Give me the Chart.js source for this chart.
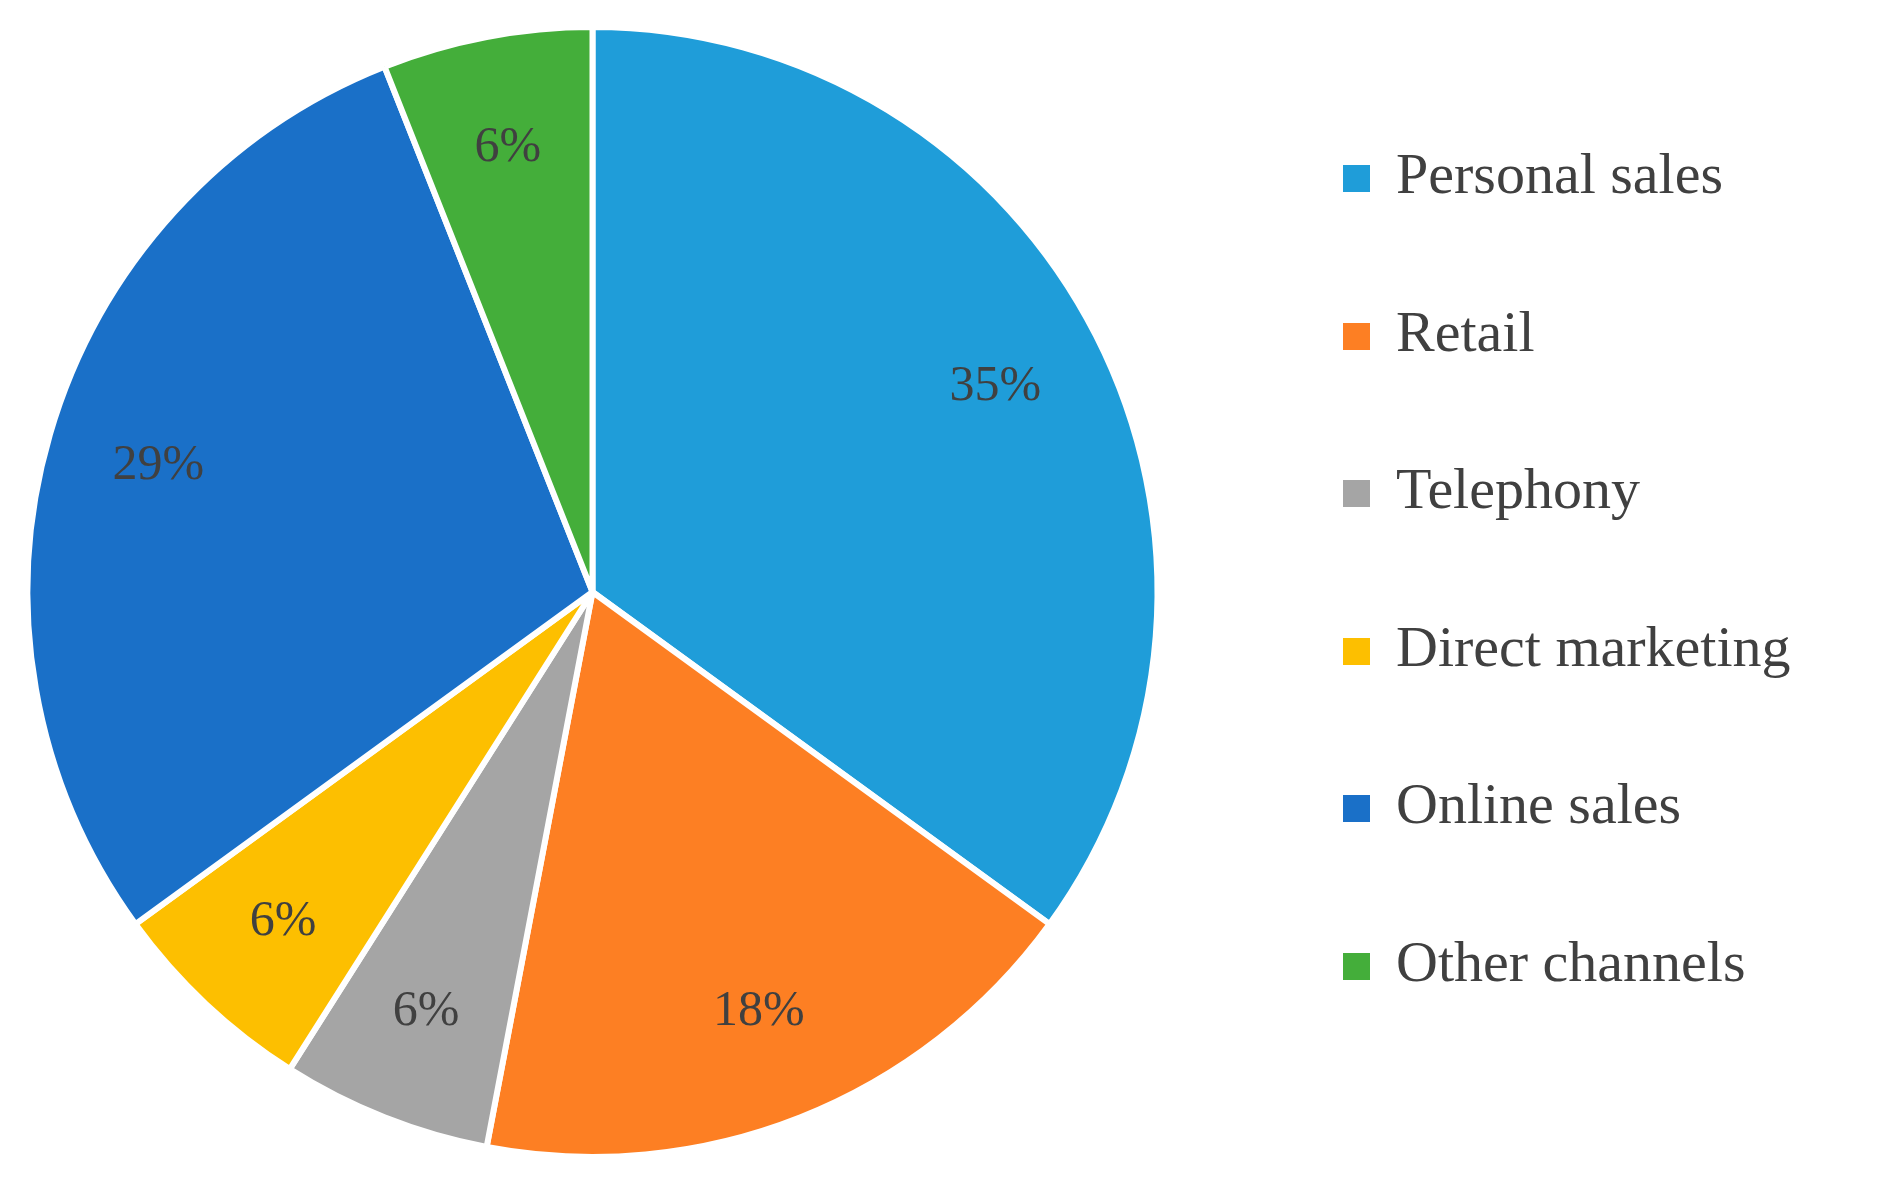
<!DOCTYPE html>
<html>
<head>
<meta charset="utf-8">
<script src="https://cdn.jsdelivr.net/npm/chart.js@4/dist/chart.umd.min.js"></script>
<style>
  html, body { margin: 0; padding: 0; background: #fff; }
  #wrap { position: relative; width: 1896px; height: 1184px; }
  #pie-box { position: absolute; left: 0; top: 0; width: 1185px; height: 1184px; }
  #legend { position: absolute; left: 1343px; top: 140px; font-family: "Liberation Serif", "DejaVu Serif", serif; font-size: 58px; color: #404040; }
  .item { height: 157.5px; display: flex; align-items: flex-start; }
  .box { width: 27px; height: 27px; margin-right: 26px; margin-top: 25px; }
</style>
</head>
<body>
<div id="wrap">
  <div id="pie-box"><canvas id="pie"></canvas></div>
  <div id="legend"></div>
</div>
<script>
const labels = ['Personal sales', 'Retail', 'Telephony', 'Direct marketing', 'Online sales', 'Other channels'];
const values = [35, 18, 6, 6, 29, 6];
const colors = ['#1f9dd9', '#fd7f23', '#a5a5a5', '#fdbf00', '#1a70c8', '#44ae3a'];

const sliceLabels = {
  id: 'sliceLabels',
  afterDatasetsDraw(chart) {
    const ctx = chart.ctx;
    const meta = chart.getDatasetMeta(0);
    ctx.save();
    ctx.font = '50px "Liberation Serif", "DejaVu Serif", serif';
    ctx.fillStyle = '#404040';
    ctx.textAlign = 'center';
    ctx.textBaseline = 'middle';
    meta.data.forEach((arc, i) => {
      const mid = (arc.startAngle + arc.endAngle) / 2;
      const r = arc.outerRadius * 0.8;
      ctx.fillText(values[i] + '%', arc.x + Math.cos(mid) * r, arc.y + Math.sin(mid) * r);
    });
    ctx.restore();
  },
};

new Chart(document.getElementById('pie'), {
  type: 'pie',
  data: {
    labels,
    datasets: [{ data: values, backgroundColor: colors, borderColor: '#ffffff', borderWidth: 6 }],
  },
  options: {
    responsive: true,
    maintainAspectRatio: false,
    animation: false,
    layout: { padding: 24 },
    plugins: { legend: { display: false }, tooltip: { enabled: false } },
  },
  plugins: [sliceLabels],
});

const legend = document.getElementById('legend');
labels.forEach((label, i) => {
  const row = document.createElement('div');
  row.className = 'item';
  row.innerHTML = `<span class="box" style="background:${colors[i]}"></span><span>${label}</span>`;
  legend.appendChild(row);
});
</script>
</body>
</html>
